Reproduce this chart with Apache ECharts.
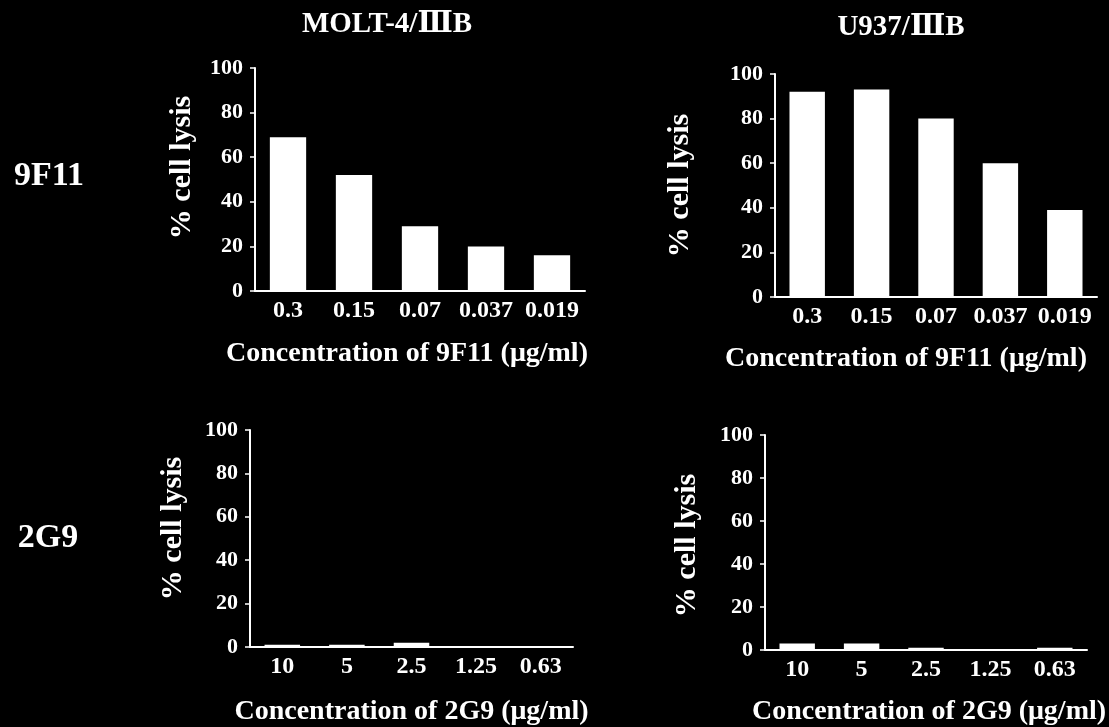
<!DOCTYPE html>
<html><head><meta charset="utf-8">
<script src="https://cdn.jsdelivr.net/npm/echarts@6/dist/echarts.min.js"></script>
<style>html,body{margin:0;padding:0;background:#000;}#c{width:1109px;height:727px;}</style>
</head><body><div id="c"></div>
<script>
const cats9F11 = ['0.3', '0.15', '0.07', '0.037', '0.019'];
const cats2G9 = ['10', '5', '2.5', '1.25', '0.63'];
const yTicks = [0, 20, 40, 60, 80, 100];
const molt9F11 = [69, 52, 29, 20, 16];
const u937_9F11 = [92, 93, 80, 60, 39];
const molt2G9 = [1, 1, 2, 0.5, 0.5];
const u937_2G9 = [3, 3, 1, 0.5, 1];
const colTitles = ['MOLT-4/ⅢB', 'U937/ⅢB'];
const rowTitles = ['9F11', '2G9'];
const xNames = ['Concentration of 9F11 (μg/ml)', 'Concentration of 2G9 (μg/ml)'];
const yName = '% cell lysis';

const FONT = '"Liberation Serif", "DejaVu Serif", serif';
const W = '#ffffff';
const grids = [
  {left: 255, top: 68, width: 330, height: 223},
  {left: 775, top: 74, width: 322, height: 223},
  {left: 250, top: 430, width: 323, height: 219},
  {left: 765, top: 435, width: 322, height: 222}
];
const panelCats = [cats9F11, cats9F11, cats2G9, cats2G9];
const panelData = [molt9F11, u937_9F11, molt2G9, u937_2G9];
const panelXName = [xNames[0], xNames[0], xNames[1], xNames[1]];
const xNamePad = [[0, 26, 0, 0], [0, 60, 0, 0], [0, 0, 0, 0], [0, 0, 0, 6]];
const xNameGap = [49, 48, 51, 48];
const yNamePad = [[0, 0, 0, 24], [0, 0, 0, 0], [0, 0, 0, 20], [0, 6, 0, 0]];
const yNameGap = [58, 80, 62, 63];

const xAxes = [], yAxes = [], series = [];
for (let i = 0; i < 4; i++) {
  xAxes.push({
    type: 'category', gridIndex: i, data: panelCats[i],
    axisLine: {lineStyle: {color: W, width: 2}},
    axisTick: {show: false},
    axisLabel: {color: W, fontFamily: FONT, fontWeight: 'bold', fontSize: 24, margin: 8,
      interval: 0, hideOverlap: false},
    name: panelXName[i], nameLocation: 'middle', nameGap: xNameGap[i],
    nameTextStyle: {color: W, fontFamily: FONT, fontWeight: 'bold', fontSize: 28, padding: xNamePad[i]}
  });
  yAxes.push({
    type: 'value', gridIndex: i, min: 0, max: 100, interval: yTicks[1] - yTicks[0],
    axisLine: {show: true, lineStyle: {color: W, width: 2}},
    axisTick: {show: true, length: 5, lineStyle: {color: W, width: 1.5}},
    splitLine: {show: false},
    axisLabel: {color: W, fontFamily: FONT, fontWeight: 'bold', fontSize: 22, margin: 12},
    name: yName, nameLocation: 'middle', nameRotate: 90, nameGap: yNameGap[i],
    nameTextStyle: {color: W, fontFamily: FONT, fontWeight: 'bold', fontSize: 30, padding: yNamePad[i]}
  });
  series.push({
    type: 'bar', xAxisIndex: i, yAxisIndex: i, data: panelData[i],
    barWidth: '55%', itemStyle: {color: W}, animation: false
  });
}

const titles = [
  {text: colTitles[0], left: 382, top: 5, size: 29},
  {text: colTitles[1], left: 896, top: 8, size: 29},
  {text: rowTitles[0], left: 44, top: 154, size: 34},
  {text: rowTitles[1], left: 43, top: 516, size: 34}
].map(t => ({
  text: t.text, left: t.left, top: t.top, textAlign: 'center',
  textStyle: {color: W, fontFamily: FONT, fontWeight: 'bold', fontSize: t.size}
}));

const chart = echarts.init(document.getElementById('c'));
chart.setOption({
  backgroundColor: '#000',
  animation: false,
  title: titles,
  grid: grids,
  xAxis: xAxes,
  yAxis: yAxes,
  series: series
});
</script></body></html>
